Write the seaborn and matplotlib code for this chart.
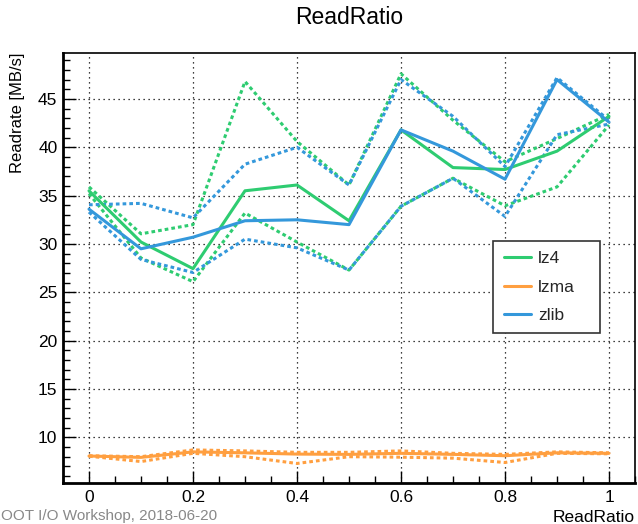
import matplotlib
matplotlib.use("Agg")
import matplotlib.pyplot as plt
from matplotlib.ticker import MultipleLocator
import seaborn as sns
import pandas as pd

sns.set_theme(style="white")
plt.rcParams['font.family'] = ['Liberation Sans', 'DejaVu Sans']

read_ratio = [0.0, 0.1, 0.2, 0.3, 0.4, 0.5, 0.6, 0.7, 0.8, 0.9, 1.0]
algorithms = ["lz4", "lzma", "zlib"]

lz4_mean = [35.5, 30.2, 27.45, 35.5, 36.1, 32.4, 41.8, 37.9, 37.7, 39.6, 43.2]
lz4_max = [35.9, 31.05, 32.0, 46.8, 40.6, 36.1, 47.6, 42.8, 38.5, 40.9, 43.4]
lz4_min = [35.2, 28.55, 26.1, 33.2, 30.2, 27.3, 33.9, 36.8, 33.95, 35.9, 42.3]

lzma_mean = [8.07, 7.93, 8.5, 8.4, 8.27, 8.24, 8.35, 8.24, 8.1, 8.4, 8.35]
lzma_max = [8.1, 8.0, 8.7, 8.6, 8.45, 8.45, 8.6, 8.35, 8.24, 8.5, 8.4]
lzma_min = [8.05, 7.5, 8.35, 8.0, 7.3, 8.0, 7.95, 7.85, 7.4, 8.35, 8.3]

zlib_mean = [33.6, 29.5, 30.7, 32.4, 32.5, 32.0, 41.8, 39.6, 36.7, 47.0, 42.6]
zlib_max = [34.05, 34.2, 32.7, 38.25, 40.0, 36.1, 47.0, 43.2, 38.0, 47.2, 42.8]
zlib_min = [33.3, 28.4, 27.05, 30.5, 29.6, 27.3, 33.9, 36.8, 32.85, 41.3, 42.4]

series = {
    "lz4": (lz4_mean, lz4_min, lz4_max),
    "lzma": (lzma_mean, lzma_min, lzma_max),
    "zlib": (zlib_mean, zlib_min, zlib_max),
}
colors = {"lz4": "#2ecc71", "lzma": "#ff9f40", "zlib": "#3498db"}

rows = []
for algo in algorithms:
    mean, lo, hi = series[algo]
    for x, m, l, h in zip(read_ratio, mean, lo, hi):
        rows.append({"ReadRatio": x, "Readrate": m, "algo": algo, "stat": "mean"})
        rows.append({"ReadRatio": x, "Readrate": l, "algo": algo, "stat": "min"})
        rows.append({"ReadRatio": x, "Readrate": h, "algo": algo, "stat": "max"})
df = pd.DataFrame(rows)

fig = plt.figure(figsize=(6.38, 5.24), dpi=100)
ax = fig.add_axes([63 / 638, 1 - 483 / 524, 572 / 638, 430 / 524])

for algo in algorithms:
    sub = df[df.algo == algo]
    for stat in ["min", "max"]:
        s = sub[sub.stat == stat]
        sns.lineplot(data=s, x="ReadRatio", y="Readrate", color=colors[algo],
                     linestyle=(0, (1.2, 1.0)), linewidth=2.2, ax=ax,
                     legend=False, estimator=None, sort=False)
for algo in algorithms:
    s = df[(df.algo == algo) & (df.stat == "mean")]
    sns.lineplot(data=s, x="ReadRatio", y="Readrate", color=colors[algo],
                 linewidth=2.2, ax=ax, label=algo, estimator=None, sort=False)

ax.set_xlim(-0.05, 1.05)
ax.set_ylim(5.28, 49.75)
ax.xaxis.set_major_locator(MultipleLocator(0.2))
ax.xaxis.set_minor_locator(MultipleLocator(0.05))
ax.yaxis.set_major_locator(MultipleLocator(5))
ax.yaxis.set_minor_locator(MultipleLocator(1))
ax.set_xticks([0, 0.2, 0.4, 0.6, 0.8, 1.0])
ax.set_xticklabels(["0", "0.2", "0.4", "0.6", "0.8", "1"])
ax.set_yticks([10, 15, 20, 25, 30, 35, 40, 45])
ax.tick_params(axis="both", which="major", direction="in", length=9, width=1,
               labelsize=12.5, color="black", labelcolor="black")
ax.tick_params(axis="both", which="minor", direction="in", length=5, width=1,
               color="black")
ax.tick_params(axis="x", which="both", bottom=True, top=False, pad=5)
ax.tick_params(axis="y", which="both", left=True, right=False, pad=4)
ax.grid(True, which="major", color="black", linestyle=(0, (1, 3)), linewidth=0.9)

for side in ["left", "bottom"]:
    ax.spines[side].set_color("black")
    ax.spines[side].set_linewidth(2.0)
for side in ["top", "right"]:
    ax.spines[side].set_color("black")
    ax.spines[side].set_linewidth(1.2)

ax.set_xlabel("")
ax.set_ylabel("")
fig.text(635 / 638, 1 - 517 / 524, "ReadRatio", ha="right", va="center",
         fontsize=12.5, color="black")
fig.text(18 / 638, 1 - 53 / 524, "Readrate [MB/s]", rotation=90, ha="center",
         va="top", fontsize=12, color="black")
fig.text(349 / 638, 1 - 17 / 524, "ReadRatio", ha="center", va="center",
         fontsize=16.5, color="black")
fig.text(-10 / 638, 1 - 516 / 524, "ROOT I/O Workshop, 2018-06-20", ha="left",
         va="center", fontsize=11, color="#888888")

leg = ax.legend(loc="upper left", bbox_to_anchor=(0.752, 0.356, 0.186, 0.207),
                mode="expand", frameon=True, fancybox=False, fontsize=12.5,
                handlelength=1.6, handletextpad=0.4, borderpad=0.6,
                labelspacing=0.75, borderaxespad=0)
leg.get_frame().set_edgecolor("#333333")
leg.get_frame().set_linewidth(1.2)
leg.get_frame().set_facecolor("white")
leg.get_frame().set_alpha(1)

fig.savefig("out.png", dpi=100)
